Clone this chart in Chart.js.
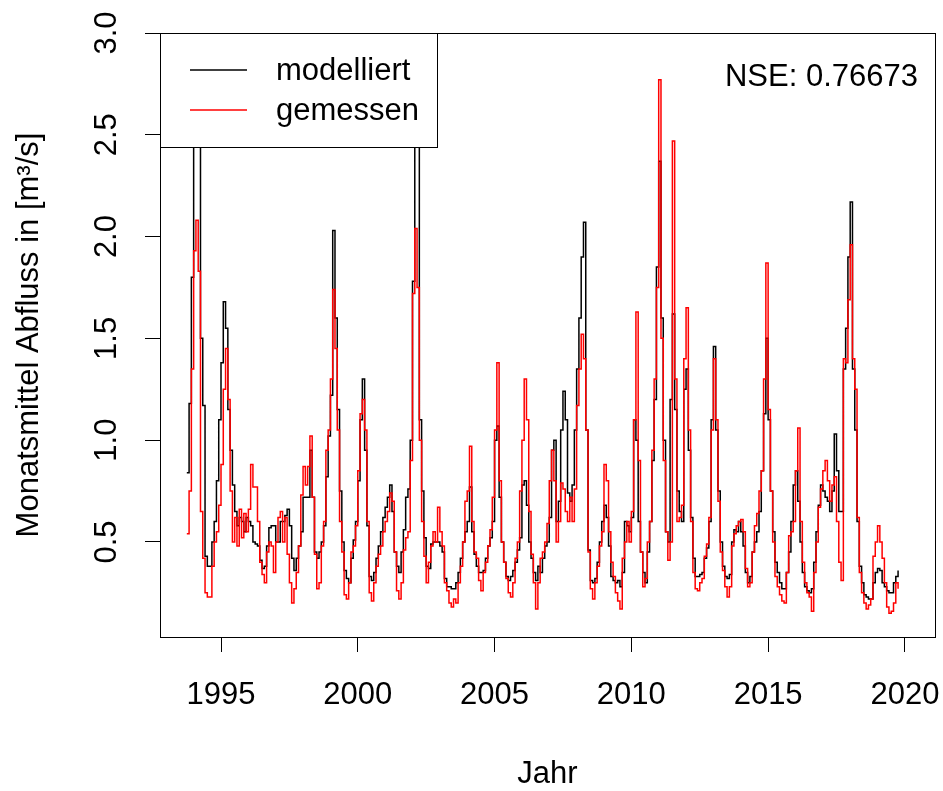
<!DOCTYPE html>
<html><head><meta charset="utf-8">
<script src="https://cdn.jsdelivr.net/npm/chart.js@4/dist/chart.umd.min.js"></script>
<style>html,body{margin:0;padding:0;background:#fff;overflow:hidden}canvas{display:block}</style>
</head><body>
<canvas id="c" width="943" height="791"></canvas>
<script>
// monthly series, starting October 1993
const startYear = 1993;
const startMonth = 10;

const modelliert = [
  0.84, 1.18, 1.80,
  2.75, 2.95, 2.60, 1.50, 1.17, 0.43, 0.38, 0.38, 0.50, 0.60, 0.80, 1.10,
  1.38, 1.68, 1.55, 1.15, 0.95, 0.78, 0.65, 0.58, 0.62, 0.60, 0.55, 0.62,
  0.60, 0.58, 0.50, 0.49, 0.48, 0.41, 0.37, 0.38, 0.48, 0.57, 0.58, 0.58,
  0.50, 0.50, 0.60, 0.60, 0.63, 0.66, 0.58, 0.42, 0.36, 0.42, 0.48, 0.55,
  0.72, 0.72, 0.72, 0.95, 0.72, 0.45, 0.42, 0.45, 0.50, 0.58, 0.82, 1.02,
  1.22, 2.03, 1.60, 1.15, 0.75, 0.50, 0.36, 0.32, 0.30, 0.42, 0.51, 0.60,
  0.80, 1.10, 1.30, 0.95, 0.58, 0.33, 0.31, 0.35, 0.42, 0.48, 0.55, 0.62,
  0.67, 0.72, 0.78, 0.65, 0.45, 0.38, 0.35, 0.45, 0.56, 0.72, 0.76, 1.00,
  1.78, 2.70, 2.60, 1.10, 0.75, 0.52, 0.38, 0.37, 0.49, 0.50, 0.50, 0.50,
  0.48, 0.45, 0.32, 0.28, 0.28, 0.27, 0.27, 0.30, 0.35, 0.42, 0.50, 0.55,
  0.60, 0.77, 0.55, 0.44, 0.38, 0.35, 0.35, 0.36, 0.42, 0.48, 0.52, 0.60,
  1.00, 1.07, 0.72, 0.50, 0.40, 0.33, 0.31, 0.33, 0.36, 0.40, 0.46, 0.52,
  0.78, 0.80, 0.68, 0.50, 0.42, 0.35, 0.31, 0.38, 0.35, 0.42, 0.48, 0.50,
  0.62, 0.95, 1.00, 0.60, 0.70, 1.05, 1.24, 1.10, 0.74, 0.70, 0.78, 1.05,
  1.35, 1.60, 1.90, 2.07, 1.05, 0.46, 0.31, 0.30, 0.32, 0.40, 0.50, 0.60,
  0.68, 0.62, 0.48, 0.33, 0.31, 0.30, 0.31, 0.28, 0.35, 0.60, 0.58, 0.55,
  0.62, 1.10, 1.00, 0.60, 0.45, 0.35, 0.30, 0.45, 0.60, 0.90, 1.20, 1.85,
  2.37, 1.60, 1.00, 0.55, 0.50, 1.20, 1.62, 1.15, 0.75, 0.65, 0.60, 1.25,
  1.35, 0.95, 0.62, 0.42, 0.33, 0.33, 0.34, 0.35, 0.42, 0.47, 0.60, 1.10,
  1.46, 1.05, 0.75, 0.50, 0.38, 0.33, 0.32, 0.34, 0.50, 0.56, 0.55, 0.60,
  0.55, 0.48, 0.35, 0.30, 0.33, 0.45, 0.50, 0.55, 0.65, 0.85, 1.13, 1.50,
  1.10, 0.75, 0.55, 0.40, 0.35, 0.30, 0.27, 0.27, 0.35, 0.45, 0.60, 0.78,
  0.85, 0.70, 0.50, 0.35, 0.28, 0.26, 0.25, 0.27, 0.40, 0.55, 0.68, 0.78,
  0.75, 0.72, 0.70, 0.65, 0.75, 1.03, 0.85, 0.65, 0.65, 1.35, 1.55, 1.90,
  2.17, 1.35, 1.05, 0.60, 0.38, 0.30, 0.24, 0.23, 0.22, 0.22, 0.30, 0.35,
  0.37, 0.36, 0.30, 0.28, 0.26, 0.25, 0.25, 0.30, 0.33, 0.36
];

const gemessen = [
  0.54, 0.75, 1.35,
  1.93, 2.08, 1.83, 0.65, 0.42, 0.25, 0.23, 0.23, 0.38, 0.50, 0.55, 0.68,
  0.88, 1.25, 1.45, 1.20, 0.75, 0.50, 0.62, 0.48, 0.66, 0.52, 0.64, 0.55,
  0.66, 0.88, 0.77, 0.77, 0.60, 0.40, 0.34, 0.30, 0.45, 0.50, 0.48, 0.35,
  0.50, 0.62, 0.65, 0.50, 0.62, 0.44, 0.30, 0.20, 0.27, 0.35, 0.48, 0.73,
  0.87, 0.78, 0.87, 1.02, 0.72, 0.44, 0.27, 0.30, 0.48, 0.60, 0.95, 1.05,
  1.30, 1.74, 1.45, 1.05, 0.60, 0.45, 0.24, 0.22, 0.30, 0.45, 0.48, 0.58,
  0.85, 1.13, 1.20, 1.05, 0.60, 0.25, 0.21, 0.30, 0.38, 0.44, 0.48, 0.55,
  0.60, 0.65, 0.74, 0.70, 0.45, 0.26, 0.22, 0.30, 0.46, 0.52, 0.55, 0.90,
  1.72, 2.04, 1.75, 1.00, 0.60, 0.43, 0.30, 0.40, 0.48, 0.55, 0.50, 0.67,
  0.55, 0.48, 0.30, 0.26, 0.20, 0.18, 0.22, 0.20, 0.30, 0.38, 0.50, 0.70,
  0.75, 0.97, 0.60, 0.45, 0.42, 0.31, 0.26, 0.35, 0.40, 0.48, 0.56, 0.72,
  1.05, 1.38, 0.80, 0.50, 0.40, 0.32, 0.25, 0.23, 0.30, 0.42, 0.50, 0.75,
  1.00, 1.30, 1.10, 0.65, 0.44, 0.30, 0.17, 0.30, 0.42, 0.45, 0.50, 0.59,
  0.80, 0.95, 0.80, 0.50, 0.60, 0.79, 0.76, 0.65, 0.60, 0.72, 0.60, 0.76,
  1.17, 1.35, 1.52, 1.40, 1.05, 0.45, 0.27, 0.22, 0.30, 0.38, 0.48, 0.55,
  0.88, 0.80, 0.55, 0.40, 0.33, 0.25, 0.21, 0.17, 0.42, 0.50, 0.60, 0.50,
  0.65, 1.10, 1.63, 0.90, 0.45, 0.28, 0.32, 0.50, 0.60, 0.95, 1.30, 1.75,
  2.77, 1.50, 0.90, 0.55, 0.41, 0.50, 2.47, 1.30, 0.60, 0.62, 0.68, 1.40,
  1.65, 1.05, 0.60, 0.35, 0.27, 0.26, 0.30, 0.32, 0.43, 0.49, 0.62, 1.05,
  1.40, 1.10, 0.70, 0.45, 0.36, 0.28, 0.23, 0.28, 0.48, 0.54, 0.58, 0.60,
  0.61, 0.55, 0.37, 0.28, 0.30, 0.45, 0.58, 0.64, 0.75, 0.85, 1.30, 1.87,
  1.15, 0.75, 0.50, 0.33, 0.28, 0.24, 0.21, 0.20, 0.35, 0.53, 0.55, 0.60,
  0.85, 1.06, 0.60, 0.40, 0.30, 0.25, 0.23, 0.16, 0.35, 0.50, 0.67, 0.76,
  0.85, 0.90, 0.80, 0.70, 0.78, 0.82, 0.60, 0.40, 0.31, 1.40, 1.38, 1.69,
  1.96, 1.40, 1.25, 0.62, 0.35, 0.25, 0.20, 0.17, 0.19, 0.22, 0.43, 0.50,
  0.58, 0.50, 0.42, 0.30, 0.18, 0.15, 0.16, 0.20, 0.30, 0.27
];

const xTicks = [1995, 2000, 2005, 2010, 2015, 2020];
const yTicks = [0.5, 1.0, 1.5, 2.0, 2.5, 3.0];
const seriesNames = ['modelliert', 'gemessen'];
const seriesColors = ['#000000', '#ff0000'];
const nseText = 'NSE: 0.76673';
const xTitle = 'Jahr';
const yTitle = 'Monatsmittel Abfluss in [m\u00B3/s]';

const FONT = "'Liberation Sans', Arial, Helvetica, sans-serif";
const FS = 31;
Chart.defaults.font.family = FONT;
Chart.defaults.color = '#000';

function toPoints(vals) {
  return vals.map((v, i) => ({ x: startYear + (startMonth - 1 + i) / 12, y: v }));
}

const boxPlugin = {
  id: 'rbox',
  afterDatasetsDraw(chart) {
    const { ctx, chartArea: a } = chart;
    ctx.save();
    ctx.strokeStyle = '#000';
    ctx.lineWidth = 1;
    ctx.strokeRect(a.left + 0.5, a.top + 0.5, a.right - a.left, a.bottom - a.top);
    // legend (top-left, like R legend)
    const lx = a.left, ly = a.top, lw = 277, lh = 114;
    ctx.fillStyle = '#fff';
    ctx.fillRect(lx + 0.5, ly + 0.5, lw, lh);
    ctx.strokeRect(lx + 0.5, ly + 0.5, lw, lh);
    ctx.font = FS + 'px ' + FONT;
    ctx.textBaseline = 'middle';
    ctx.textAlign = 'left';
    const rows = [ly + 37, ly + 77];
    seriesNames.forEach((n, k) => {
      ctx.strokeStyle = seriesColors[k];
      ctx.lineWidth = 1.4;
      ctx.beginPath();
      ctx.moveTo(lx + 30, rows[k]);
      ctx.lineTo(lx + 87, rows[k]);
      ctx.stroke();
      ctx.fillStyle = '#000';
      ctx.fillText(n, lx + 116, rows[k] + 1);
    });
    ctx.textAlign = 'right';
    ctx.fillText(nseText, a.right - 17, a.top + 44);
    ctx.restore();
  }
};

new Chart(document.getElementById('c').getContext('2d'), {
  type: 'line',
  data: {
    datasets: [
      { label: seriesNames[0], data: toPoints(modelliert), borderColor: seriesColors[0], borderWidth: 1.5,
        pointRadius: 0, stepped: 'before', fill: false, order: 2 },
      { label: seriesNames[1], data: toPoints(gemessen), borderColor: seriesColors[1], borderWidth: 1.5,
        pointRadius: 0, stepped: 'before', fill: false, order: 1 }
    ]
  },
  options: {
    responsive: false,
    animation: false,
    devicePixelRatio: 1,
    layout: { padding: { left: 0, right: 8, top: 33, bottom: 0 } },
    plugins: { legend: { display: false }, tooltip: { enabled: false } },
    scales: {
      x: {
        type: 'linear', min: 1992.77, max: 2021.1,
        afterBuildTicks: s => { s.ticks = xTicks.map(v => ({ value: v })); },
        afterFit: s => { s.height = 154; s.paddingLeft = 0; s.paddingRight = 0; },
        grid: { display: true, drawOnChartArea: false, drawTicks: true, tickLength: 15, color: '#000', tickColor: '#000', lineWidth: 1 },
        border: { display: false },
        ticks: { font: { size: FS }, color: '#000', padding: 25, autoSkip: false, maxRotation: 0, minRotation: 0,
                 callback: v => String(v) },
        title: { display: true, text: xTitle, font: { size: FS }, color: '#000', padding: { top: 0, bottom: -2 } }
      },
      y: {
        type: 'linear', min: 0.033, max: 3.0,
        afterBuildTicks: s => { s.ticks = yTicks.map(v => ({ value: v })); },
        afterFit: s => { s.width = 160; s.paddingTop = 0; s.paddingBottom = 0; },
        grid: { display: true, drawOnChartArea: false, drawTicks: true, tickLength: 15, color: '#000', tickColor: '#000', lineWidth: 1 },
        border: { display: false },
        ticks: { font: { size: FS }, color: '#000', padding: 16, crossAlign: 'center', minRotation: 90, maxRotation: 90,
                 callback: v => Number(v).toFixed(1) },
        title: { display: true, text: yTitle, font: { size: FS }, color: '#000', padding: { top: 11, bottom: 0 } }
      }
    }
  },
  plugins: [boxPlugin]
});
</script>
</body></html>
